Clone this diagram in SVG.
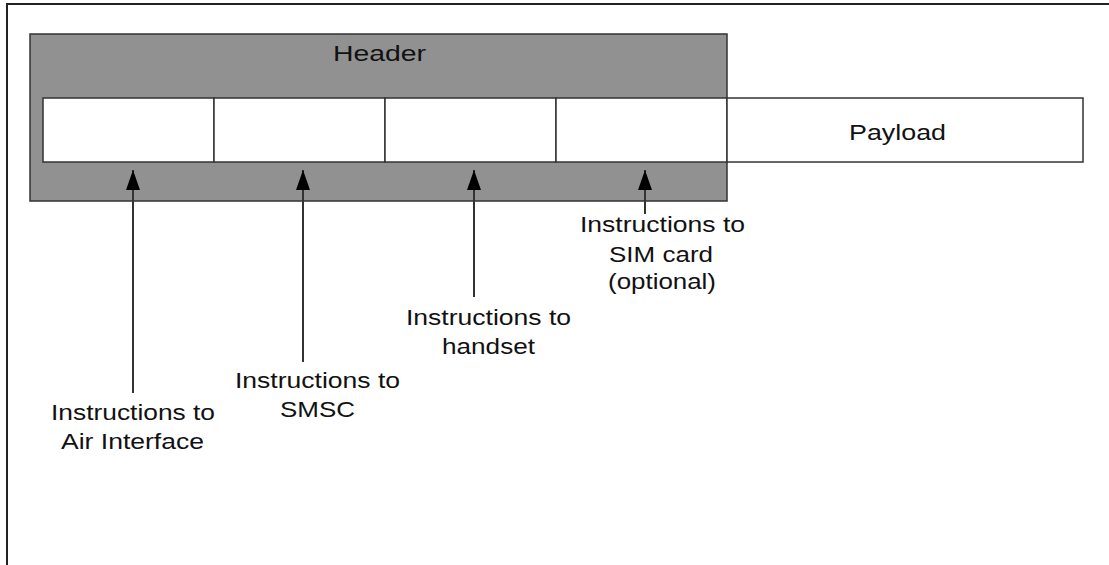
<svg xmlns="http://www.w3.org/2000/svg" width="1109" height="565" viewBox="0 0 1109 565">
<defs>
<style>
.lbl{font-family:"Liberation Sans",Arial,sans-serif;font-size:22px;fill:#111;text-anchor:middle}
.cell{fill:#fff;stroke:#333;stroke-width:1.5}
.conn{stroke:#333;stroke-width:2;fill:none}
</style>
<marker id="ah" markerUnits="userSpaceOnUse" markerWidth="21" markerHeight="16" refX="20" refY="8" orient="auto" viewBox="0 0 21 16">
<polygon points="20,8 0,1 0,15" fill="#000"/>
</marker>
</defs>
<rect x="0" y="0" width="1109" height="565" fill="#fff"/>
<rect x="7" y="4" width="1120" height="580" fill="none" stroke="#222" stroke-width="2"/>
<g id="header">
<rect x="30" y="34" width="697" height="167" fill="#919191" stroke="#333" stroke-width="1.5"/>
<text class="lbl" x="379.5" y="61" textLength="93" lengthAdjust="spacingAndGlyphs">Header</text>
</g>
<g id="field-air"><rect class="cell" x="43" y="98" width="171" height="64"/></g>
<g id="field-smsc"><rect class="cell" x="214" y="98" width="171" height="64"/></g>
<g id="field-handset"><rect class="cell" x="385" y="98" width="171" height="64"/></g>
<g id="field-sim"><rect class="cell" x="556" y="98" width="171" height="64"/></g>
<g id="payload">
<rect class="cell" x="727" y="98" width="356" height="64"/>
<text class="lbl" x="897.5" y="140" textLength="97" lengthAdjust="spacingAndGlyphs">Payload</text>
</g>
<g id="connectors">
<line class="conn" x1="133" y1="393" x2="133" y2="170" marker-end="url(#ah)"/>
<line class="conn" x1="303" y1="362" x2="303" y2="170" marker-end="url(#ah)"/>
<line class="conn" x1="474" y1="297" x2="474" y2="170" marker-end="url(#ah)"/>
<line class="conn" x1="645" y1="214" x2="645" y2="170" marker-end="url(#ah)"/>
</g>
<g id="label-air">
<text class="lbl" x="133" y="420" textLength="164" lengthAdjust="spacingAndGlyphs">Instructions to</text>
<text class="lbl" x="132.5" y="449" textLength="143" lengthAdjust="spacingAndGlyphs">Air Interface</text>
</g>
<g id="label-smsc">
<text class="lbl" x="317.5" y="388" textLength="165" lengthAdjust="spacingAndGlyphs">Instructions to</text>
<text class="lbl" x="317.5" y="417" textLength="75" lengthAdjust="spacingAndGlyphs">SMSC</text>
</g>
<g id="label-handset">
<text class="lbl" x="488.5" y="325" textLength="165" lengthAdjust="spacingAndGlyphs">Instructions to</text>
<text class="lbl" x="488.5" y="354" textLength="93" lengthAdjust="spacingAndGlyphs">handset</text>
</g>
<g id="label-sim">
<text class="lbl" x="662.5" y="232" textLength="165" lengthAdjust="spacingAndGlyphs">Instructions to</text>
<text class="lbl" x="661" y="262" textLength="104" lengthAdjust="spacingAndGlyphs">SIM card</text>
<text class="lbl" x="662" y="289" textLength="108" lengthAdjust="spacingAndGlyphs">(optional)</text>
</g>
</svg>
